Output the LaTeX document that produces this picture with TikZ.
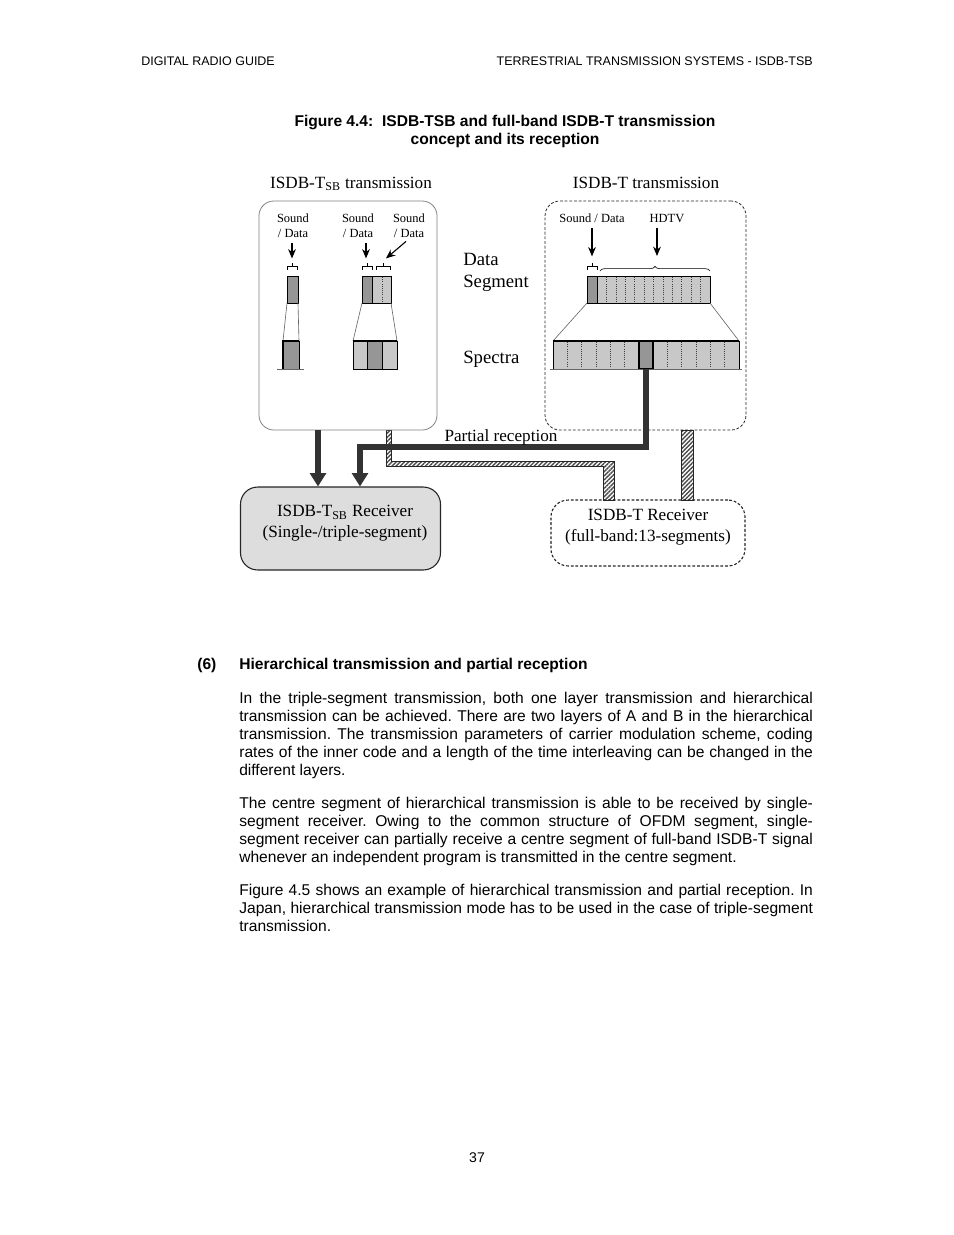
\documentclass[tikz,border=0pt]{standalone}
\usepackage{fontspec}
\setmainfont{Liberation Serif}
\newfontfamily\arialfont{Liberation Sans}
\usetikzlibrary{arrows.meta,positioning,calc,decorations.pathreplacing,patterns.meta}
\definecolor{segdark}{RGB}{150,150,150}
\definecolor{seglight}{RGB}{200,200,200}
\definecolor{rxgray}{RGB}{221,221,221}
\definecolor{pipegray}{RGB}{51,51,51}
\tolerance=9999
\frenchspacing
\tikzset{pagehead/.style={font=\arialfont\fontsize{8}{9.6}\selectfont,inner sep=0pt},capt/.style={font=\arialfont\bfseries\fontsize{10}{11.55}\selectfont,align=center,anchor=north,inner sep=0pt},secline/.style={font=\arialfont\bfseries\fontsize{10}{11.55}\selectfont,anchor=base west,inner sep=0pt},bodytext/.style={font=\arialfont\fontsize{10}{11.55}\selectfont,text width=368pt,align=justify,anchor=north west,inner sep=0pt},txbox/.style={draw=black!50,line width=0.5pt,rounded corners=9.5pt},rxbox/.style={draw=black!85,line width=0.7pt,rounded corners=11pt},lbl/.style={font=\fontsize{11}{13.5}\selectfont,inner sep=0pt},biglbl/.style={font=\fontsize{12}{13.8}\selectfont,inner sep=0pt},sdlabel/.style={font=\fontsize{8}{9}\selectfont,align=center,anchor=north,inner sep=0pt},darr/.style={-{Stealth[length=6pt,width=5pt]},line width=0.7pt},brc/.style={decorate,decoration={brace,amplitude=3pt},line width=0.4pt},bracketline/.style={line width=0.4pt},seg/.style={draw,line width=0.4pt},fan/.style={draw=black!60,line width=0.4pt},subline/.style={densely dotted,line width=0.4pt,black!75},pipe/.style={draw=pipegray,line width=3.3pt,-{Triangle[length=8.5pt,width=10pt]}},hatch/.style={draw=black!85,line width=0.6pt,pattern={Lines[angle=45,distance=1.9pt,line width=0.9pt]},pattern color=black!70}}

\begin{document}
\begin{tikzpicture}[x=0.6415pt,y=-0.6415pt]
\useasboundingbox (0,0) rectangle (954,1235);
\fill[white] (0,0) rectangle (954,1235);
% page head and caption
\node[pagehead,anchor=base west] (headl) at (141,65) {DIGITAL RADIO GUIDE};
\node[pagehead,anchor=base east] (headr) at (813,65) {TERRESTRIAL TRANSMISSION SYSTEMS - ISDB-TSB};
\node[capt] (capt) at (505,115) {Figure 4.4:\ \ ISDB-TSB and full-band ISDB-T transmission\\concept and its reception};

% hatched links
\draw[hatch] (386,430) -- (391,430) -- (391,461) -- (614,461) -- (614,500) -- (603,500) -- (603,466) -- (386,466) -- cycle;
\draw[hatch] (681,430) rectangle (693,500);

% transmission boxes
\node[txbox,minimum width=114.2pt,minimum height=146.9pt] (tsbbox) at (348,315.5) {};
\node[txbox,draw=black!85,dash pattern=on 1.8pt off 1.2pt,minimum width=128.9pt,minimum height=146.9pt] (tbox) at (645.5,315.5) {};
\node[lbl,anchor=base] (tsbtitle) at (351,188) {ISDB-T\textsubscript{SB} transmission};
\node[lbl,anchor=base] (ttitle) at (646,188) {ISDB-T transmission};

% labels and arrows
\node[sdlabel] (sdA) at (293,214) {Sound\\/ Data};
\node[sdlabel] (sdB) at (358,214) {Sound\\/ Data};
\node[sdlabel] (sdC) at (409,214) {Sound\\/ Data};
\node[sdlabel] (sdD) at (592,214) {Sound / Data};
\node[sdlabel] (hdtv) at (667,214) {HDTV};
\draw[darr] (sdA.south) ++(-1,6) -- ++(0,15);
\draw[darr] (sdB.south) ++(8,6) -- ++(0,15);
\draw[darr] (sdC.south) ++(-3,4) -- ++(-20,17);
\draw[darr] (sdD.south) ++(0,5) -- ++(0,28);
\draw[darr] (hdtv.south) ++(-10,5) -- ++(0,28);
\foreach \a/\b in {287/297,362/372,376/390,587/597}
  \draw[bracketline] (\a,270) -- (\a,266) -- (\b,266) -- (\b,270) ({(\a+\b)/2},266) -- ++(0,-3);
\draw[brc] (600,271) -- (710,271);

% single segment
\draw[seg,fill=segdark] (287,276) rectangle (298,303);
\draw[fan] (287,303) -- (283,341) (298,303) -- (299,341);
\draw[seg,fill=segdark] (283,341) rectangle (299,369);
\draw[line width=1.3pt] (283,369) -- (283,341) -- (299,341);
\draw[fan] (277,369) -- (304,369);

% triple segment
\draw[seg,fill=segdark] (362,276) rectangle (372,303);
\draw[seg,fill=seglight] (372,276) rectangle (391,303);
\draw[subline] (382,277) -- (382,302);
\draw[fan] (362,303) -- (353,341) (391,303) -- (397,341);
\draw[seg,fill=seglight] (353,341) rectangle (367,369);
\draw[seg,fill=segdark] (367,341) rectangle (382,369);
\draw[seg,fill=seglight] (382,341) rectangle (397,369);
\draw[line width=1.3pt] (353,341) -- (397,341);

% full band 13 segments
\draw[seg,fill=seglight] (587,276) rectangle (710,303);
\draw[seg,fill=segdark] (587,276) rectangle (597,303);
\foreach \i in {1,...,11}
  \draw[subline] ({597+9.42*\i},277) -- ++(0,25);
\draw[fan] (587,303) -- (553,341) (710,303) -- (739,341);
\draw[seg,fill=seglight] (553,341) rectangle (739,369);
\foreach \i in {1,2,3,4,5,8,9,10,11,12}
  \draw[subline] ({553+14.31*\i},342) -- ++(0,26);
\draw[fill=segdark,line width=1pt] (638.8,341) rectangle (653.1,369);
\draw[line width=1.3pt] (553,341) -- (739,341);
\draw[fan] (550,369) -- (742,369);
\coordinate (cseg) at (646,369);

\node[biglbl,anchor=north west,align=left] (dseglbl) at (463,253) {Data\\Segment};
\node[biglbl,anchor=base west] (speclbl) at (463,363) {Spectra};

% receivers
\node[rxbox,fill=rxgray,minimum width=128.3pt,minimum height=53.2pt] (tsbrx) at (340.5,528.5) {};
\node[lbl,align=center,anchor=north] (tsbrxtext) at (345,505) {ISDB-T\textsubscript{SB} Receiver\\(Single-/triple-segment)};
\node[rxbox,dash pattern=on 1.8pt off 1.2pt,minimum width=124.5pt,minimum height=42.3pt] (trx) at (648,533) {};
\node[lbl,align=center,anchor=north] (trxtext) at (648,509) {ISDB-T Receiver\\(full-band:13-segments)};

% reception paths
\coordinate (pipeA) at (318,430);
\coordinate (bend) at (360,447);
\draw[pipe] (pipeA) -- (pipeA |- tsbrx.north);
\draw[pipe] (cseg) |- (bend) -- (bend |- tsbrx.north);
\node[lbl,anchor=base] (partial) at (501,441) {Partial reception};

% section text
\node[secline] (secnum) at (197,669) {(6)};
\node[secline] (sectitle) at (239,669) {Hierarchical transmission and partial reception};
\node[bodytext] (para1) at (239,692) {In the triple-segment transmission, both one layer transmission and hierarchical\linebreak transmission can be achieved. There are two layers of A and B in the hierarchical\linebreak transmission. The transmission parameters of carrier modulation scheme, coding\linebreak rates of the inner code and a length of the time interleaving can be changed in the\linebreak different layers.};
\node[bodytext] (para2) at (239,797) {The centre segment of hierarchical transmission is able to be received by single-\linebreak segment receiver. Owing to the common structure of OFDM segment, single-\linebreak segment receiver can partially receive a centre segment of full-band ISDB-T signal\linebreak whenever an independent program is transmitted in the centre segment.};
\node[bodytext] (para3) at (239,884) {Figure 4.5 shows an example of hierarchical transmission and partial reception. In\linebreak Japan, hierarchical transmission mode has to be used in the case of triple-segment\linebreak transmission.};
\node[pagehead,font=\arialfont\fontsize{9}{10}\selectfont,anchor=base] (pageno) at (477,1162) {37};
\end{tikzpicture}
\end{document}
